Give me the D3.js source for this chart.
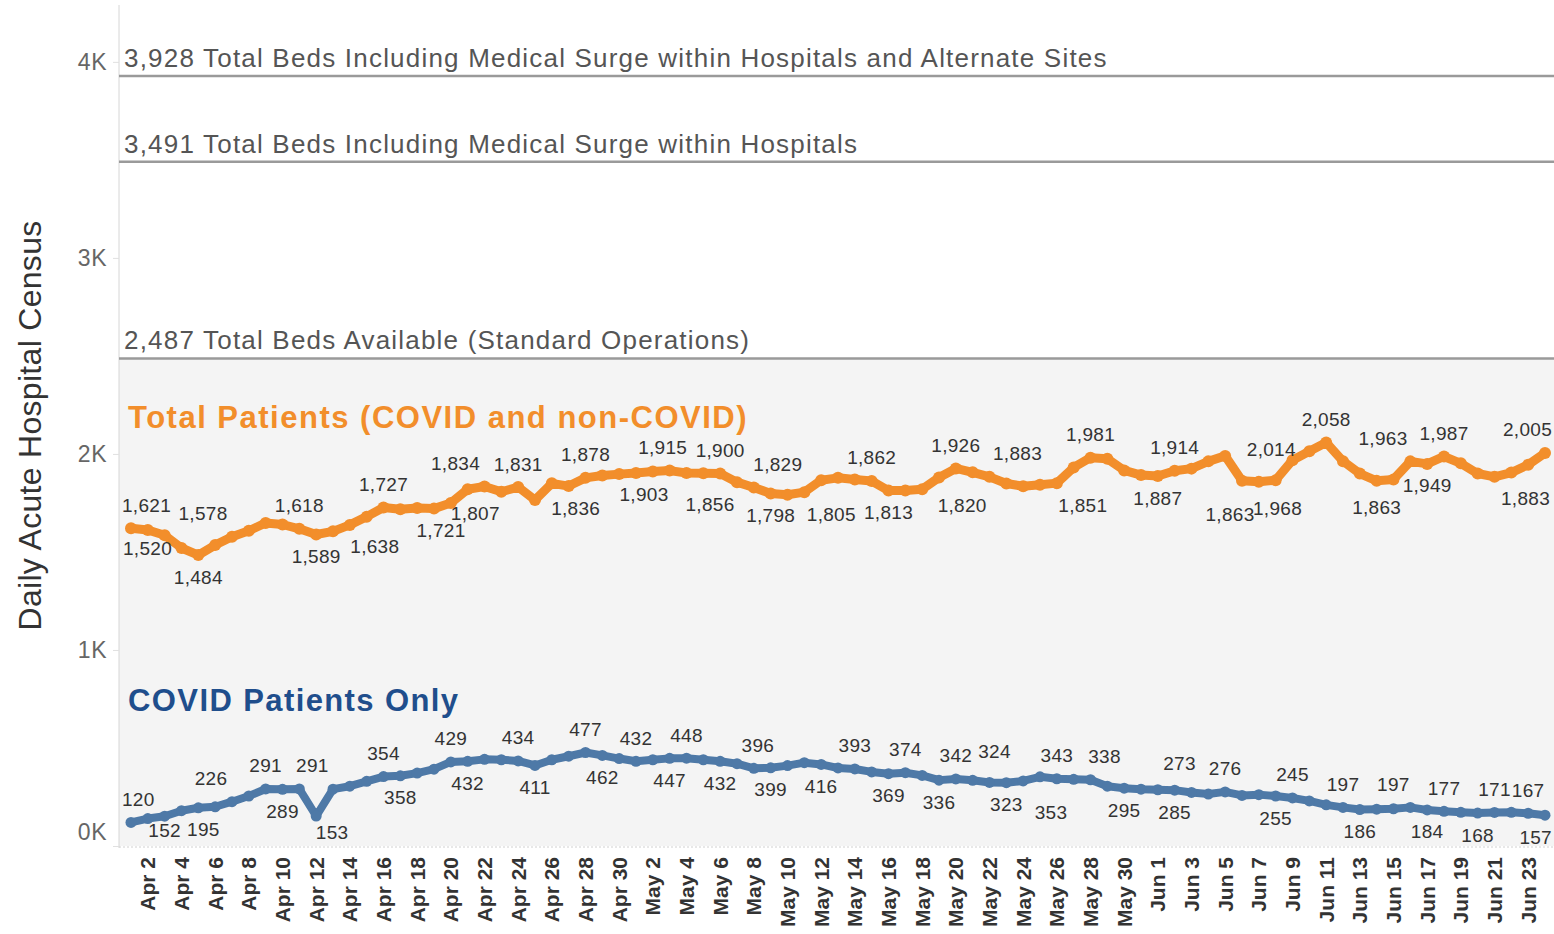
<!DOCTYPE html>
<html>
<head>
<meta charset="utf-8">
<script src="https://cdn.jsdelivr.net/npm/d3@7"></script>
<style>
  body { margin: 0; background: #fff; }
  svg { font-family: Arial, "Liberation Sans", sans-serif; }
</style>
</head>
<body>
<svg id="chart" width="1554" height="934"></svg>
<script>
// ---- data (Apr 1 - Jun 24, 2020, one value per day) ----
const firstDay = "2020-04-01";
const lastDay = "2020-06-24";

const totalPatients = [
  1621, 1612, 1585, 1520, 1484, 1535, 1578, 1608, 1648, 1640,
  1618, 1589, 1605, 1638, 1680, 1727, 1718, 1724, 1721, 1750,
  1820, 1834, 1807, 1831, 1765, 1850, 1836, 1878, 1890, 1897,
  1903, 1910, 1915, 1903, 1902, 1900, 1856, 1829, 1798, 1792,
  1805, 1866, 1878, 1870, 1862, 1813, 1814, 1820, 1880, 1926,
  1906, 1883, 1849, 1835, 1843, 1851, 1931, 1981, 1975, 1916,
  1892, 1887, 1914, 1925, 1962, 1990, 1863, 1858, 1866, 1968,
  2014, 2058, 1963, 1900, 1863, 1870, 1962, 1949, 1987, 1952,
  1900, 1883, 1905, 1945, 2005
];

const covidPatients = [
  120, 140, 152, 180, 195, 200, 226, 255, 291, 289,
  291, 153, 290, 305, 330, 354, 358, 372, 392, 429,
  432, 442, 440, 434, 411, 440, 458, 477, 462, 446,
  432, 440, 447, 448, 440, 432, 420, 396, 399, 410,
  425, 416, 398, 393, 378, 369, 374, 360, 336, 342,
  335, 324, 323, 332, 353, 343, 340, 338, 305, 295,
  290, 287, 285, 273, 265, 276, 258, 262, 255, 245,
  230, 210, 197, 186, 188, 190, 197, 184, 177, 172,
  168, 171, 172, 167, 157
];

const capacityValues = [3928, 3491, 2487];
const capacityLabels = [
  "3,928 Total Beds Including Medical Surge within Hospitals and Alternate Sites",
  "3,491 Total Beds Including Medical Surge within Hospitals",
  "2,487 Total Beds Available (Standard Operations)"
];

const yTickValues = [0, 1000, 2000, 3000, 4000];
const yTickLabels = ["0K", "1K", "2K", "3K", "4K"];

const xTickDays = [
  "2020-04-02", "2020-04-04", "2020-04-06", "2020-04-08", "2020-04-10", "2020-04-12",
  "2020-04-14", "2020-04-16", "2020-04-18", "2020-04-20", "2020-04-22", "2020-04-24",
  "2020-04-26", "2020-04-28", "2020-04-30", "2020-05-02", "2020-05-04", "2020-05-06",
  "2020-05-08", "2020-05-10", "2020-05-12", "2020-05-14", "2020-05-16", "2020-05-18",
  "2020-05-20", "2020-05-22", "2020-05-24", "2020-05-26", "2020-05-28", "2020-05-30",
  "2020-06-01", "2020-06-03", "2020-06-05", "2020-06-07", "2020-06-09", "2020-06-11",
  "2020-06-13", "2020-06-15", "2020-06-17", "2020-06-19", "2020-06-21", "2020-06-23"
];

// which points carry a value label: [day index, side, nudge x, nudge y]
const totalLabelled = [
  [0, "up"], [3, "down", -34, -22], [4, "down"], [6, "up", -29], [10, "up"], [11, "down"],
  [13, "down", 25], [15, "up"], [18, "down", 7], [21, "up", -29], [22, "down", -26],
  [23, "up"], [26, "down", 7], [27, "up"], [30, "down", 8], [32, "up", -7], [35, "up"],
  [36, "down", -27], [37, "up", 24], [38, "down"], [40, "down", 27], [44, "up"],
  [45, "down"], [47, "down", 40, -6], [49, "up"], [51, "up", 28], [55, "down", 26],
  [57, "up"], [61, "down"], [62, "up"], [66, "down", -12, 12], [69, "down", -15, 26],
  [70, "up", -38, 21], [71, "up"], [72, "up", 40], [74, "down", 0, 5], [77, "down"],
  [78, "up"], [81, "down", 31], [84, "up"]
];

const covidLabelled = [
  [0, "up"], [2, "down", 0, -8], [4, "down", 5], [6, "up", -21], [8, "up"], [9, "down"],
  [10, "up", 13], [11, "down", 16, -6], [15, "up"], [16, "down"], [19, "up"], [20, "down"],
  [23, "up"], [24, "down"], [27, "up"], [28, "down"], [30, "up"], [32, "down"], [33, "up"],
  [35, "down"], [37, "up", 4], [38, "down"], [41, "down"], [43, "up"], [45, "down"],
  [46, "up"], [48, "down"], [49, "up"], [51, "up", 5, -8], [52, "down"], [54, "down", 11, 14],
  [55, "up"], [57, "up", 14], [59, "down"], [62, "down"], [63, "up", -12, -6], [65, "up"],
  [68, "down"], [69, "up"], [72, "up"], [73, "down"], [76, "up", -17], [77, "down"],
  [78, "up"], [80, "down"], [81, "up"], [83, "up"], [84, "down"]
];

// ---- layout ----
const W = 1554, H = 934;
const plot = { left: 119, right: 1554, top: 5, bottom: 846 };
const orange = "#f28e2b";
const blue = "#4e79a7";

const parseDay = d3.timeParse("%Y-%m-%d");
const days = d3.timeDay.range(parseDay(firstDay), d3.timeDay.offset(parseDay(lastDay), 1));

const x = d3.scaleTime()
  .domain([days[0], days[days.length - 1]])
  .range([131, 1545]);

const y = d3.scaleLinear()
  .domain([0, 4290])
  .range([plot.bottom, plot.top]);

const svg = d3.select("#chart");

svg.append("rect").attr("width", W).attr("height", H).attr("fill", "#fff");

// shaded band below standard capacity
svg.append("rect")
  .attr("x", plot.left)
  .attr("y", y(capacityValues[2]))
  .attr("width", plot.right - plot.left)
  .attr("height", plot.bottom - y(capacityValues[2]))
  .attr("fill", "#f4f4f4");

// axis frame
svg.append("line")
  .attr("x1", plot.left).attr("x2", plot.left)
  .attr("y1", plot.top).attr("y2", plot.bottom + 2)
  .attr("stroke", "#d6d6d6");

svg.append("line")
  .attr("x1", plot.left).attr("x2", plot.right)
  .attr("y1", plot.bottom + 1).attr("y2", plot.bottom + 1)
  .attr("stroke", "#d0d0d0")
  .attr("stroke-dasharray", "2,2");

// y axis
const yAxis = d3.axisLeft(y)
  .tickValues(yTickValues)
  .tickFormat((d, i) => yTickLabels[i])
  .tickSize(6)
  .tickPadding(6);

const gy = svg.append("g")
  .attr("transform", `translate(${plot.left},0)`)
  .call(yAxis);
gy.select(".domain").remove();
gy.selectAll(".tick line").attr("stroke", "#e0e0e0");
gy.selectAll(".tick text")
  .attr("fill", "#666")
  .style("font-size", "23px")
  .style("font-family", "Arial, 'Liberation Sans', sans-serif")
  .style("letter-spacing", "0.5px")
  .attr("dy", (d) => d === 0 ? "-0.28em" : "0.32em");

svg.append("text")
  .attr("transform", `translate(41,${(y(0) + y(4290)) / 2}) rotate(-90)`)
  .attr("text-anchor", "middle")
  .attr("fill", "#333")
  .style("font-size", "32px")
  .style("letter-spacing", "0.3px")
  .text("Daily Acute Hospital Census");

// x axis labels (rotated)
const fmt = d3.timeFormat("%b %-d");
svg.append("g")
  .selectAll("text")
  .data(xTickDays)
  .enter()
  .append("text")
  .attr("transform", (d) => `translate(${x(parseDay(d))},857) rotate(-90)`)
  .attr("text-anchor", "end")
  .attr("dy", "0.36em")
  .attr("fill", "#333")
  .style("font-size", "21px")
  .style("font-weight", "bold")
  .text((d) => fmt(parseDay(d)));

// capacity reference lines
capacityValues.forEach((v, i) => {
  svg.append("line")
    .attr("x1", plot.left).attr("x2", plot.right)
    .attr("y1", y(v)).attr("y2", y(v))
    .attr("stroke", "#9a9a9a")
    .attr("stroke-width", 2.5);
  svg.append("text")
    .attr("x", plot.left + 5)
    .attr("y", y(v) - 9)
    .attr("fill", "#555")
    .style("font-size", "26px")
    .style("letter-spacing", "1.2px")
    .text(capacityLabels[i]);
});

// series
function drawSeries(values, color, width, r) {
  const pts = values.map((v, i) => ({ day: days[i], v: v }));
  const line = d3.line().x((d) => x(d.day)).y((d) => y(d.v));
  svg.append("path")
    .datum(pts)
    .attr("d", line)
    .attr("fill", "none")
    .attr("stroke", color)
    .attr("stroke-width", width)
    .attr("stroke-linejoin", "round")
    .attr("stroke-linecap", "round");
  svg.append("g")
    .selectAll("circle")
    .data(pts)
    .enter()
    .append("circle")
    .attr("cx", (d) => x(d.day))
    .attr("cy", (d) => y(d.v))
    .attr("r", r)
    .attr("fill", color);
}

drawSeries(totalPatients, orange, 9, 6);
drawSeries(covidPatients, blue, 8, 5.5);

// value labels
const num = d3.format(",");
function drawLabels(values, picks) {
  const g = svg.append("g");
  picks.forEach((p) => {
    const i = p[0], side = p[1], dx = p[2] || 0, dy = p[3] || 0;
    const t = g.append("text")
      .attr("text-anchor", "middle")
      .attr("dominant-baseline", "central")
      .attr("fill", "#333")
      .style("font-size", "19px")
      .style("letter-spacing", "0.3px")
      .text(num(values[i]));
    const w = t.node().getComputedTextLength();
    let cx = x(days[i]) + dx;
    cx = Math.max(plot.left + w / 2 + 3, Math.min(plot.right - w / 2 - 2, cx));
    const cy = y(values[i]) + (side === "up" ? -23 : 22) + dy;
    t.attr("x", cx).attr("y", cy);
  });
}

drawLabels(totalPatients, totalLabelled);
drawLabels(covidPatients, covidLabelled);

// series titles
svg.append("text")
  .attr("x", 128).attr("y", 428)
  .attr("fill", orange)
  .style("font-size", "31px")
  .style("font-weight", "bold")
  .style("letter-spacing", "1.5px")
  .text("Total Patients (COVID and non-COVID)");

svg.append("text")
  .attr("x", 128).attr("y", 711)
  .attr("fill", "#1f4e8c")
  .style("font-size", "31px")
  .style("font-weight", "bold")
  .style("letter-spacing", "1.4px")
  .text("COVID Patients Only");
</script>
</body>
</html>
